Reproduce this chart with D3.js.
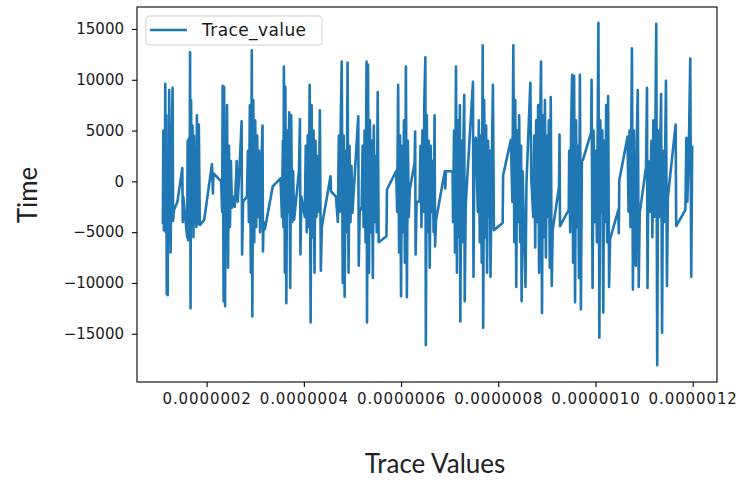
<!DOCTYPE html>
<html><head><meta charset="utf-8">
<script src="https://cdn.jsdelivr.net/npm/d3@7"></script>
<style>body{margin:0;background:#fff;} svg{display:block;}</style>
</head><body><svg id="c" width="739" height="483"></svg>
<script>
const seriesName = "Trace_value";
const xLabel = "Trace Values";
const yLabel = "Time";
const xTickValues = [2e-7, 4e-7, 6e-7, 8e-7, 10e-7, 12e-7];
const xTickLabels = ["0.0000002", "0.0000004", "0.0000006", "0.0000008", "0.0000010", "0.0000012"];
const yTickValues = [-15000, -10000, -5000, 0, 5000, 10000, 15000];
const yTickLabels = ["\u221215000", "\u221210000", "\u22125000", "0", "5000", "10000", "15000"];

const traceX = [
1.10e-7,1.11e-7,1.12e-7,1.13e-7,1.14e-7,1.15e-7,1.16e-7,1.17e-7,1.18e-7,1.19e-7,1.20e-7,1.21e-7,1.22e-7,1.23e-7,1.24e-7,1.25e-7,1.26e-7,1.28e-7,1.30e-7,1.31e-7,1.33e-7,1.40e-7,1.50e-7,1.51e-7,1.52e-7,
1.60e-7,1.61e-7,1.62e-7,1.63e-7,1.65e-7,1.66e-7,1.67e-7,1.68e-7,1.70e-7,1.71e-7,1.73e-7,1.74e-7,1.76e-7,1.77e-7,1.79e-7,1.80e-7,1.82e-7,1.84e-7,1.86e-7,1.95e-7,2.11e-7,2.13e-7,2.14e-7,2.30e-7,
2.32e-7,2.33e-7,2.35e-7,2.36e-7,2.38e-7,2.39e-7,2.41e-7,2.42e-7,2.44e-7,2.46e-7,2.48e-7,2.50e-7,2.52e-7,2.56e-7,2.58e-7,2.62e-7,2.64e-7,2.68e-7,2.72e-7,2.73e-7,2.75e-7,
2.83e-7,2.85e-7,2.87e-7,2.89e-7,2.91e-7,2.93e-7,2.94e-7,2.96e-7,2.98e-7,3.00e-7,3.02e-7,3.04e-7,3.06e-7,3.08e-7,3.10e-7,3.13e-7,3.15e-7,3.16e-7,3.17e-7,3.20e-7,3.36e-7,3.52e-7,
3.55e-7,3.57e-7,3.58e-7,3.59e-7,3.61e-7,3.62e-7,3.64e-7,3.66e-7,3.68e-7,3.70e-7,3.72e-7,3.74e-7,3.76e-7,3.78e-7,3.80e-7,3.90e-7,3.92e-7,3.93e-7,3.95e-7,
4.02e-7,4.04e-7,4.06e-7,4.08e-7,4.10e-7,4.12e-7,4.14e-7,4.16e-7,4.18e-7,4.20e-7,4.22e-7,4.24e-7,4.26e-7,4.28e-7,4.31e-7,4.33e-7,4.35e-7,4.37e-7,4.40e-7,4.55e-7,4.56e-7,4.66e-7,
4.70e-7,4.72e-7,4.74e-7,4.76e-7,4.78e-7,4.80e-7,4.82e-7,4.84e-7,4.86e-7,4.88e-7,4.90e-7,4.92e-7,4.94e-7,4.96e-7,4.98e-7,5.00e-7,5.12e-7,5.13e-7,5.15e-7,
5.19e-7,5.21e-7,5.23e-7,5.25e-7,5.27e-7,5.29e-7,5.30e-7,5.32e-7,5.34e-7,5.36e-7,5.38e-7,5.40e-7,5.42e-7,5.44e-7,5.46e-7,5.48e-7,5.50e-7,5.52e-7,5.54e-7,5.70e-7,5.71e-7,5.90e-7,
5.92e-7,5.94e-7,5.96e-7,5.98e-7,6.00e-7,6.02e-7,6.04e-7,6.06e-7,6.08e-7,6.10e-7,6.12e-7,6.14e-7,6.16e-7,6.18e-7,6.28e-7,6.29e-7,6.30e-7,6.32e-7,
6.38e-7,6.40e-7,6.42e-7,6.44e-7,6.46e-7,6.48e-7,6.50e-7,6.51e-7,6.53e-7,6.55e-7,6.57e-7,6.59e-7,6.61e-7,6.63e-7,6.65e-7,6.67e-7,6.69e-7,6.70e-7,6.72e-7,6.90e-7,6.91e-7,6.92e-7,7.06e-7,
7.07e-7,7.09e-7,7.11e-7,7.13e-7,7.15e-7,7.17e-7,7.19e-7,7.21e-7,7.22e-7,7.24e-7,7.26e-7,7.28e-7,7.30e-7,7.31e-7,7.33e-7,7.34e-7,7.48e-7,7.49e-7,7.51e-7,7.54e-7,
7.58e-7,7.60e-7,7.62e-7,7.64e-7,7.66e-7,7.68e-7,7.69e-7,7.71e-7,7.73e-7,7.75e-7,7.77e-7,7.79e-7,7.81e-7,7.83e-7,7.84e-7,7.87e-7,7.89e-7,7.91e-7,8.09e-7,8.10e-7,8.26e-7,
8.29e-7,8.31e-7,8.33e-7,8.35e-7,8.37e-7,8.39e-7,8.41e-7,8.43e-7,8.45e-7,8.47e-7,8.48e-7,8.50e-7,8.56e-7,8.58e-7,8.66e-7,8.68e-7,
8.72e-7,8.74e-7,8.76e-7,8.78e-7,8.80e-7,8.82e-7,8.84e-7,8.86e-7,8.88e-7,8.90e-7,8.92e-7,8.94e-7,8.96e-7,8.98e-7,9.00e-7,9.02e-7,9.04e-7,9.06e-7,9.08e-7,9.10e-7,9.12e-7,9.25e-7,9.26e-7,9.27e-7,9.45e-7,
9.46e-7,9.48e-7,9.50e-7,9.52e-7,9.54e-7,9.56e-7,9.58e-7,9.60e-7,9.62e-7,9.64e-7,9.66e-7,9.68e-7,9.70e-7,9.72e-7,9.74e-7,9.91e-7,
9.92e-7,9.94e-7,9.96e-7,9.98e-7,10.00e-7,10.03e-7,10.06e-7,10.08e-7,10.10e-7,10.12e-7,10.14e-7,10.16e-7,10.18e-7,10.20e-7,10.22e-7,10.24e-7,10.26e-7,10.28e-7,10.30e-7,10.47e-7,10.48e-7,10.49e-7,10.66e-7,
10.68e-7,10.70e-7,10.72e-7,10.75e-7,10.77e-7,10.79e-7,10.81e-7,10.83e-7,10.85e-7,10.87e-7,10.89e-7,10.91e-7,10.92e-7,11.04e-7,11.06e-7,11.07e-7,11.09e-7,
11.13e-7,11.15e-7,11.17e-7,11.19e-7,11.21e-7,11.23e-7,11.25e-7,11.27e-7,11.29e-7,11.31e-7,11.33e-7,11.35e-7,11.37e-7,11.39e-7,11.41e-7,11.43e-7,11.45e-7,11.47e-7,11.49e-7,11.65e-7,11.66e-7,11.85e-7,
11.87e-7,11.89e-7,11.92e-7,11.95e-7,11.97e-7,11.99e-7
];
const traceY = [
-4200,5000,-4800,4000,-3000,9600,-5000,6500,-11100,3000,-11200,2000,-4500,9000,-6000,2500,-7000,4000,9200,-3900,-2800,-2000,1300,-4000,-1500,
-5500,4000,-5800,4200,-3000,12700,-12500,8000,-4500,5500,-5500,4500,-4000,2000,-4500,6500,-4200,5600,-4300,-3800,1700,-1200,800,0,
-3000,9400,-11800,9300,-12300,4000,-5500,7500,-8500,3500,-4500,2000,-2600,-1500,-2500,2000,-2000,1500,5900,-7200,-2000,
-1500,3000,-4000,7500,-9000,12900,-13300,8000,-6000,6000,-4500,4500,-3500,3000,-5000,2000,5500,-6900,-4000,-4700,-500,300,
-3500,4000,-4500,11300,-9000,9300,-12000,5000,-3000,6800,-10500,6500,-4000,1000,-3800,1000,6100,-7200,-1500,
-3500,3500,-5000,4500,-4500,9500,-13900,7500,-5500,5000,-9000,4000,-3500,2500,-3000,7000,-8800,-4500,-3600,500,-1000,-1500,
-4000,4500,-3000,6000,11800,-10000,4500,-11350,3000,-5000,11700,-9000,3500,-4000,1500,-3100,6400,-8300,-3000,
-2500,3500,-4500,5000,-6000,11800,-13900,11500,-9000,6000,-5000,4000,-9500,5500,-4000,2500,-5000,8800,-6000,-5400,-800,1000,
-3000,9500,-7000,4500,-11300,3500,-5000,6000,-8000,11300,-11400,4000,-3500,-800,1800,4900,-7200,-2000,
-2000,3500,-4500,5000,-3000,8000,12200,-16100,6500,-5000,4000,-8500,3500,-3000,2000,-5000,6500,-6400,-3800,1000,-700,1000,1000,
-4000,5000,-7000,11300,-9000,6000,-5500,7500,-13800,4000,-6000,3000,8500,-11800,-2500,-1500,9800,-9400,3500,4300,
-3000,6000,-6000,4500,-8000,13400,-14400,8000,-5500,5500,-9000,4000,-3500,3000,-9400,2500,9500,-4800,-4100,600,4100,
-2000,13400,-6000,8000,-10400,5000,-4000,6500,-6000,3500,-11800,1000,-10400,-200,9700,200,
-3500,4500,-6500,6000,-4000,7500,-9000,5000,11800,-12950,6500,-5500,8000,-7500,4500,-3500,6000,-8500,8300,-10300,-4800,-500,4600,-4400,-2800,
3000,-5000,5500,10500,-8000,10400,-11900,6000,-4500,3500,-9500,10500,-12600,2000,2100,4800,
10000,-10500,5000,-4000,3000,-6000,15600,-15400,6000,-3000,5000,-12900,4000,-4000,7500,-6000,8400,-10400,-5700,-2800,-5100,100,4400,
-3000,5000,-4500,13100,-10650,5000,-7000,-8300,4000,9000,-10400,-3000,-2800,1400,9200,-10500,2000,
-3000,4000,-5500,6000,-3500,3000,15500,-18100,5000,-3500,2500,8600,-14900,3000,-4000,1500,9900,-10300,-1500,5600,-4400,-2800,
4300,-2000,3000,12100,-9400,3500
];

const W = 739, H = 483;
const margin = {left: 137, top: 7, right: 22, bottom: 101};
const iw = W - margin.left - margin.right;
const ih = H - margin.top - margin.bottom;

const x = d3.scaleLinear().domain([0.568e-7, 12.5e-7]).range([0, iw]);
const y = d3.scaleLinear().domain([-19750, 17163]).range([ih, 0]);

const svg = d3.select("#c");
svg.append("rect").attr("width", W).attr("height", H).attr("fill", "#fff");
const g = svg.append("g").attr("transform", `translate(${margin.left},${margin.top})`);

g.append("clipPath").attr("id", "clip").append("rect").attr("width", iw).attr("height", ih);

const pts = traceX.map((v, i) => [v, traceY[i]]);
const line = d3.line().x(d => x(d[0])).y(d => y(d[1]));
g.append("path").datum(pts)
  .attr("clip-path", "url(#clip)")
  .attr("d", line)
  .attr("fill", "none")
  .attr("stroke", "#1f77b4")
  .attr("stroke-width", 2.6)
  .attr("stroke-linejoin", "round");

// axes
const xAxis = d3.axisBottom(x).tickValues(xTickValues).tickFormat((d, i) => xTickLabels[i]).tickSize(5).tickPadding(6);
const yAxis = d3.axisLeft(y).tickValues(yTickValues).tickFormat((d, i) => yTickLabels[i]).tickSize(5).tickPadding(8);

const gx = g.append("g").attr("transform", `translate(0,${ih})`).call(xAxis);
const gy = g.append("g").call(yAxis);
[gx, gy].forEach(a => {
  a.select(".domain").remove();
  a.selectAll(".tick line").attr("stroke", "#000").attr("stroke-width", 1.1);
  a.selectAll(".tick text").attr("fill", "#1a1a1a").style("font-family", "DejaVu Sans").style("font-size", "15px");
});
gx.selectAll(".tick text").style("letter-spacing", "0.9px");

// frame
g.append("rect").attr("width", iw).attr("height", ih)
  .attr("fill", "none").attr("stroke", "#000").attr("stroke-width", 1.1);

// legend
const lg = svg.append("g");
lg.append("rect").attr("x", 146).attr("y", 16).attr("width", 176).attr("height", 29).attr("rx", 3)
  .attr("fill", "#fff").attr("fill-opacity", 0.85).attr("stroke", "#d0d0d0").attr("stroke-width", 1);
lg.append("line").attr("x1", 150).attr("x2", 187).attr("y1", 30).attr("y2", 30)
  .attr("stroke", "#1f77b4").attr("stroke-width", 2.6);
lg.append("text").attr("x", 202).attr("y", 36).text(seriesName)
  .style("font-family", "DejaVu Sans").style("font-size", "17px").style("letter-spacing", "0.4px").attr("fill", "#1a1a1a");

// axis labels
svg.append("text").attr("x", 435).attr("y", 473).attr("text-anchor", "middle").text(xLabel)
  .style("font-family", "Lato").style("font-size", "26px").attr("fill", "#222");
svg.append("text").attr("transform", "translate(37,195) rotate(-90)").attr("text-anchor", "middle").text(yLabel)
  .style("font-family", "Lato").style("font-size", "26px").attr("fill", "#222");
</script>
</body></html>
